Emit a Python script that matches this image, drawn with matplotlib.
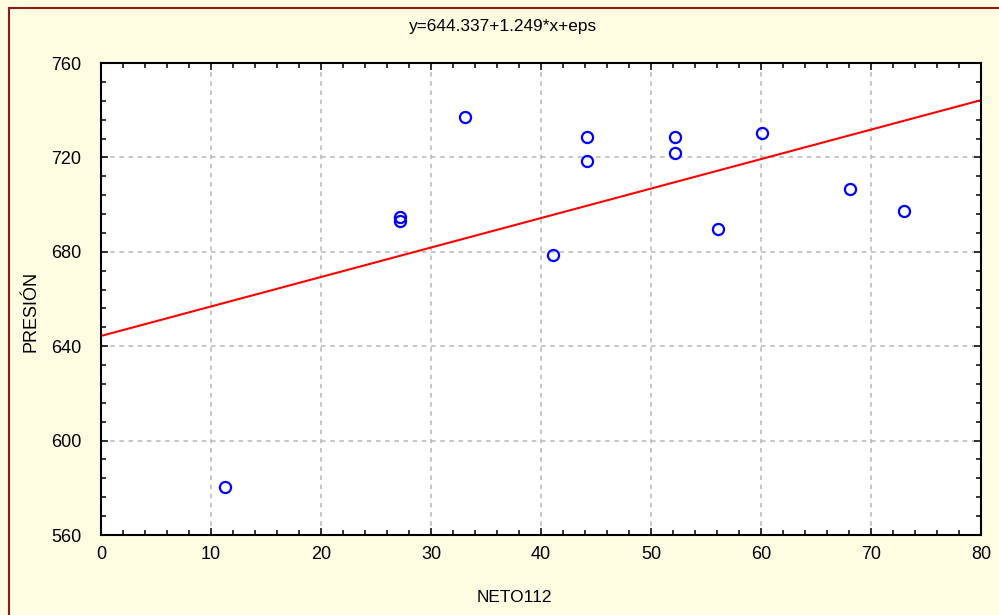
import numpy as np
import matplotlib.pyplot as plt
from matplotlib.ticker import MultipleLocator
from matplotlib.patches import Rectangle

plt.rcParams['font.family'] = ['Liberation Sans', 'DejaVu Sans']

# NETO112 vs PRESIÓN observations
neto112 = [11.3, 27.2, 27.2, 33.1, 41.1, 44.2, 44.2, 52.2, 52.2, 56.1, 60.1, 68.1, 73.0]
presion = [580.3, 694.7, 693.1, 737.1, 678.6, 728.6, 718.5, 728.6, 721.9, 689.7, 730.3, 706.6, 697.3]

# fitted line coefficients
b0 = 644.337
b1 = 1.249

fig = plt.figure(figsize=(9.99, 6.15), dpi=100, facecolor='#fefde2')
fig.patches.append(Rectangle((9/999, -0.1), 1.2, 1 - 8/615 + 0.1, transform=fig.transFigure,
                             fill=False, edgecolor='#8e1a1a', linewidth=1.5, zorder=0))

ax = fig.add_axes([101/999, 1 - 535/615, 880/999, 472/615])
ax.set_facecolor('white')

xs = np.array([0, 80])
ax.plot(xs, b0 + b1 * xs, color='red', linewidth=1.5, zorder=2)
ax.plot(neto112, presion, 'o', markerfacecolor='none', markeredgecolor='#0000ff',
        markersize=8, markeredgewidth=1.6, zorder=3, clip_on=False)

ax.set_xlim(0, 80)
ax.set_ylim(560, 760)
ax.xaxis.set_major_locator(MultipleLocator(10))
ax.xaxis.set_minor_locator(MultipleLocator(2))
ax.yaxis.set_major_locator(MultipleLocator(40))
ax.yaxis.set_minor_locator(MultipleLocator(8))
ax.tick_params(which='both', direction='in', top=True, right=True, width=1.1, labelsize=13, color='black')
ax.tick_params(which='major', length=5)
ax.tick_params(which='minor', length=3.5)
ax.tick_params(axis='x', which='major', pad=8)
ax.tick_params(axis='y', which='major', pad=14)
ax.grid(True, which='major', linestyle=(0, (3, 3)), color='#b8b8b8', linewidth=1.1)
ax.set_axisbelow(True)
for s in ax.spines.values():
    s.set_linewidth(1.5)
    s.set_color('black')

fig.text(503/999, 1 - 27/615, 'y=644.337+1.249*x+eps', ha='center', va='center', fontsize=12.4)
fig.text(514/999, 1 - 597/615, 'NETO112', ha='center', va='center', fontsize=12.4)
fig.text(31/999, 1 - 311/615, 'PRESIÓN', ha='center', va='center', rotation=90, fontsize=13)

fig.savefig('out.png', dpi=100, facecolor=fig.get_facecolor())
